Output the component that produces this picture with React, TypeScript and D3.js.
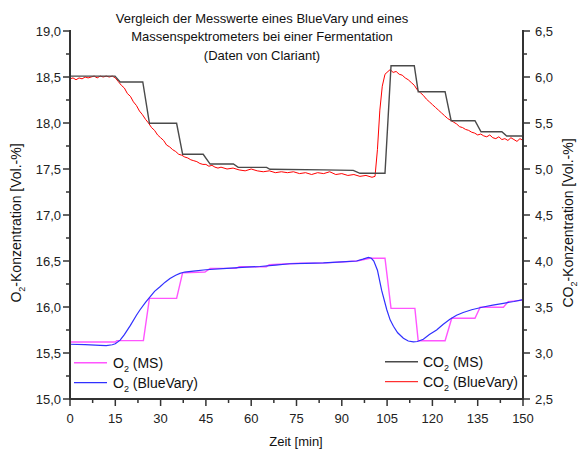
import React from 'react';
import * as d3 from 'd3';

// zeit in minuten, werte in Vol.-%
const co2MsTime = [0, 14.9, 16.6, 24.1, 26.3, 35.3, 37.3, 44.1, 46.4, 54.1, 55.7, 65.1, 66.2, 84, 93.8, 96, 104.3, 106.3, 114, 115.3, 124.2, 126.2, 134.1, 136.1, 143, 144.6, 150];
const co2MsValue = [6.01, 6.01, 5.946, 5.946, 5.497, 5.497, 5.16, 5.16, 5.054, 5.054, 5.018, 5.018, 4.997, 4.99, 4.985, 4.953, 4.953, 6.123, 6.123, 5.84, 5.84, 5.525, 5.525, 5.405, 5.405, 5.359, 5.359];

const co2BvTime = [0, 1, 2, 3, 4, 5, 6, 7, 8, 9, 10, 11, 12, 13, 14, 15, 16, 17, 18, 19, 20, 21, 22, 23, 24, 25, 26, 27, 28, 29, 30, 31, 32, 33, 34, 35, 36, 37, 38, 39, 40, 41, 42, 43, 44, 45, 46, 47, 48, 49, 50, 52, 54, 56, 58, 60, 62, 64, 66, 68, 70, 72, 74, 76, 78, 80, 82, 84, 86, 88, 90, 92, 94, 96, 98, 100, 101, 101.8, 102.6, 103.4, 104.3, 105.3, 106, 107, 108, 109, 110, 111, 112, 113, 114, 115, 116, 117, 118, 119, 120, 121, 122, 123, 124, 125, 126, 127, 128, 129, 130, 131, 132, 133, 134, 135, 136, 137, 138, 139, 140, 141, 142, 143, 144, 145, 146, 147, 148, 149, 150];
const co2BvValue = [5.98, 5.99, 5.97, 5.99, 5.98, 6.0, 5.99, 6.0, 6.01, 5.99, 6.01, 6.0, 6.01, 6.0, 6.01, 5.99, 5.95, 5.91, 5.88, 5.82, 5.79, 5.73, 5.69, 5.63, 5.59, 5.54, 5.5, 5.45, 5.42, 5.37, 5.34, 5.31, 5.26, 5.24, 5.21, 5.19, 5.16, 5.15, 5.13, 5.12, 5.1, 5.09, 5.08, 5.06, 5.05, 5.05, 5.03, 5.04, 5.02, 5.01, 5.02, 5.0, 5.01, 4.99, 4.98, 5.0, 4.98, 4.97, 4.98, 4.96, 4.97, 4.96, 4.97, 4.95, 4.96, 4.94, 4.96, 4.95, 4.97, 4.94, 4.95, 4.93, 4.94, 4.92, 4.93, 4.91, 4.92, 5.21, 5.64, 5.9, 6.03, 6.06, 6.08, 6.05, 6.06, 6.03, 6.02, 5.99, 5.97, 5.94, 5.91, 5.86, 5.83, 5.8, 5.76, 5.73, 5.7, 5.67, 5.64, 5.61, 5.58, 5.55, 5.53, 5.51, 5.49, 5.46, 5.45, 5.43, 5.42, 5.4, 5.39, 5.37, 5.38, 5.36, 5.35, 5.37, 5.34, 5.33, 5.35, 5.32, 5.33, 5.31, 5.34, 5.32, 5.3, 5.33, 5.31];

const o2MsTime = [0, 15, 15.5, 24.3, 26.3, 35.3, 37.3, 44.7, 46.4, 55, 56, 65, 66, 76, 85, 95, 99.3, 104.3, 106.3, 114.2, 115.3, 124.2, 126.4, 134.1, 135.8, 143.5, 145.1, 150];
const o2MsValue = [15.62, 15.62, 15.635, 15.635, 16.094, 16.094, 16.373, 16.38, 16.42, 16.42, 16.438, 16.438, 16.46, 16.475, 16.48, 16.5, 16.53, 16.53, 15.985, 15.985, 15.633, 15.633, 15.877, 15.877, 15.997, 15.997, 16.058, 16.075];

const o2BvTime = [0, 5, 10, 12, 14, 15, 16.6, 18, 20, 22, 23.2, 25, 26.5, 28, 29.8, 31.5, 33.1, 35, 36.4, 38, 40.8, 45, 51.9, 57, 62.9, 68, 72.8, 78, 83.9, 90, 94.9, 97, 98.8, 99.8, 100.6, 101.8, 103.2, 104.9, 106, 107.1, 108.5, 110.4, 112, 113.7, 115, 117, 119, 121.4, 123.5, 125.8, 128, 130.2, 133, 136.8, 140, 143.5, 147, 150];
const o2BvValue = [15.595, 15.59, 15.583, 15.58, 15.59, 15.6, 15.64, 15.7, 15.8, 15.91, 15.97, 16.05, 16.11, 16.17, 16.22, 16.27, 16.31, 16.345, 16.365, 16.38, 16.39, 16.405, 16.42, 16.43, 16.44, 16.455, 16.47, 16.475, 16.48, 16.49, 16.5, 16.52, 16.54, 16.53, 16.5, 16.4, 16.18, 15.97, 15.86, 15.79, 15.72, 15.66, 15.63, 15.62, 15.625, 15.65, 15.7, 15.75, 15.81, 15.866, 15.91, 15.94, 15.97, 16.0, 16.02, 16.04, 16.06, 16.08];

const xTicks = [0, 15, 30, 45, 60, 75, 90, 105, 120, 135, 150];
const o2Ticks = [15, 15.5, 16, 16.5, 17, 17.5, 18, 18.5, 19];
const co2Ticks = [2.5, 3, 3.5, 4, 4.5, 5, 5.5, 6, 6.5];
const titleLines = ['Vergleich der Messwerte eines BlueVary und eines', 'Massenspektrometers bei einer Fermentation', '(Daten von Clariant)'];

const W = 579;
const H = 450;
const left = 70;
const right = 523;
const top = 31;
const bottom = 399;
const font = 'Liberation Sans, Arial, sans-serif';
const axisColor = '#333';

const x = d3.scaleLinear().domain([0, 150]).range([left, right]);
const yO2 = d3.scaleLinear().domain([15, 19]).range([bottom, top]);
const yCo2 = d3.scaleLinear().domain([2.5, 6.5]).range([bottom, top]);

const fmt = (v: number) => d3.format('.1f')(v).replace('.', ',');

function pathOf(t: number[], v: number[], y: d3.ScaleLinear<number, number>) {
  const line = d3.line<number>().x((d) => x(t[d])).y((d) => y(v[d]));
  return line(d3.range(t.length)) || '';
}

function Sub({ children }: { children: string }) {
  return (
    <tspan fontSize="9" dy="4">
      {children}
    </tspan>
  );
}

export default function App() {
  const minorX = d3.range(0, 151, 7.5);
  const minorY = d3.range(15, 19.01, 0.25);

  return (
    <svg width={W} height={H} style={{ position: 'absolute', left: 0, top: 0, background: '#fff' }} fontFamily={font}>
      <rect width={W} height={H} fill="#fff" />

      {/* titel */}
      {titleLines.map((t, i) => (
        <text key={t} x={262} y={23 + i * 18.4} textAnchor="middle" fontSize="13" fill="#111">
          {t}
        </text>
      ))}

      {/* kurven */}
      <path d={pathOf(co2BvTime, co2BvValue, yCo2)} fill="none" stroke="#ff0000" strokeWidth="1" />
      <path d={pathOf(co2MsTime, co2MsValue, yCo2)} fill="none" stroke="#4a4a4a" strokeWidth="1.4" />
      <path d={pathOf(o2MsTime, o2MsValue, yO2)} fill="none" stroke="#ff55ff" strokeWidth="1.4" />
      <path d={pathOf(o2BvTime, o2BvValue, yO2)} fill="none" stroke="#3030ff" strokeWidth="1.2" />

      {/* achsen */}
      <g stroke={axisColor} strokeWidth="2">
        <line x1={left} x2={left} y1={top - 1} y2={bottom + 1} />
        <line x1={right} x2={right} y1={top - 1} y2={bottom + 1} />
        <line x1={left - 1} x2={right + 1} y1={bottom} y2={bottom} />
      </g>
      <g stroke={axisColor} strokeWidth="1.5">
        {minorX.map((t) => (
          <line key={'x' + t} x1={x(t)} x2={x(t)} y1={bottom} y2={bottom + (t % 15 === 0 ? 7 : 4)} />
        ))}
        {minorY.map((v) => {
          const major = Math.abs(v * 2 - Math.round(v * 2)) < 1e-6;
          return (
            <g key={'y' + v}>
              <line x1={left - (major ? 7 : 4)} x2={left} y1={yO2(v)} y2={yO2(v)} />
              <line x1={right} x2={right + (major ? 7 : 4)} y1={yO2(v)} y2={yO2(v)} />
            </g>
          );
        })}
      </g>

      {/* ticklabels */}
      <g fontSize="13" fill="#222">
        {xTicks.map((t) => (
          <text key={t} x={x(t)} y={422.5} textAnchor="middle">
            {t}
          </text>
        ))}
        {o2Ticks.map((v) => (
          <text key={v} x={61} y={yO2(v) + 4.6} textAnchor="end">
            {fmt(v)}
          </text>
        ))}
        {co2Ticks.map((v) => (
          <text key={v} x={535} y={yCo2(v) + 4.6}>
            {fmt(v)}
          </text>
        ))}
      </g>

      {/* achsentitel */}
      <text x={296} y={446} textAnchor="middle" fontSize="13" fill="#111">
        Zeit [min]
      </text>
      <text transform="translate(21,223) rotate(-90)" textAnchor="middle" fontSize="14" fill="#111">
        O<Sub>2</Sub>
        <tspan dy="-4">-Konzentration [Vol.-%]</tspan>
      </text>
      <text transform="translate(573,223) rotate(-90)" textAnchor="middle" fontSize="14" fill="#111">
        CO<Sub>2</Sub>
        <tspan dy="-4">-Konzentration [Vol.-%]</tspan>
      </text>

      {/* legenden */}
      <g fontSize="14" fill="#111">
        <line x1={74} x2={107} y1={362.7} y2={362.7} stroke="#ff55ff" strokeWidth="1.4" />
        <text x={113} y={368}>
          O<Sub>2</Sub>
          <tspan dy="-4"> (MS)</tspan>
        </text>
        <line x1={74} x2={107} y1={382.7} y2={382.7} stroke="#3030ff" strokeWidth="1.2" />
        <text x={113} y={388}>
          O<Sub>2</Sub>
          <tspan dy="-4"> (BlueVary)</tspan>
        </text>
        <line x1={385} x2={418} y1={361.7} y2={361.7} stroke="#4a4a4a" strokeWidth="1.4" />
        <text x={423} y={367}>
          CO<Sub>2</Sub>
          <tspan dy="-4"> (MS)</tspan>
        </text>
        <line x1={385} x2={418} y1={381.7} y2={381.7} stroke="#ff0000" strokeWidth="1" />
        <text x={423} y={387}>
          CO<Sub>2</Sub>
          <tspan dy="-4"> (BlueVary)</tspan>
        </text>
      </g>
    </svg>
  );
}
